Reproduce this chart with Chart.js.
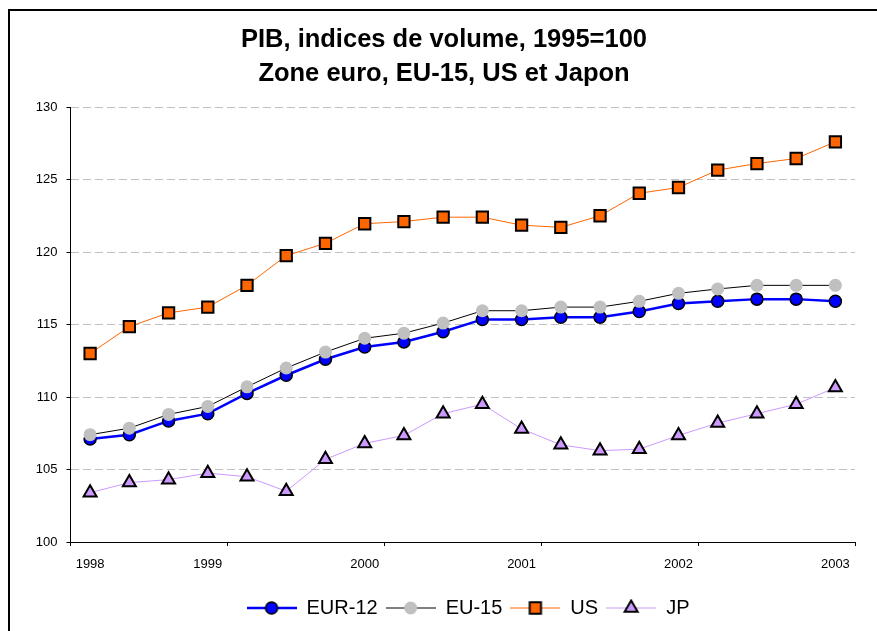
<!DOCTYPE html>
<html>
<head>
<meta charset="utf-8">
<script src="https://cdn.jsdelivr.net/npm/chart.js@4/dist/chart.umd.min.js"></script>
<style>
    html, body { margin: 0; padding: 0; background: #fff; }
    #wrap { width: 877px; height: 631px; }
</style>
</head>
<body>
<div id="wrap"><canvas id="pib" width="877" height="631"></canvas></div>
<script>
// quarters 1998T1 .. 2002T4
const quarters = [
    '1998T1', '1998T2', '1998T3', '1998T4',
    '1999T1', '1999T2', '1999T3', '1999T4',
    '2000T1', '2000T2', '2000T3', '2000T4',
    '2001T1', '2001T2', '2001T3', '2001T4',
    '2002T1', '2002T2', '2002T3', '2002T4'
];

const eur12 = [107.1, 107.4, 108.35, 108.85, 110.25, 111.5, 112.6, 113.45, 113.8, 114.5,
    115.35, 115.35, 115.5, 115.5, 115.9, 116.45, 116.6, 116.75, 116.75, 116.6];
const eu15 = [107.4, 107.85, 108.8, 109.35, 110.7, 112.0, 113.1, 114.05, 114.4, 115.1,
    115.95, 115.95, 116.2, 116.2, 116.6, 117.15, 117.45, 117.7, 117.7, 117.7];
const us = [113.0, 114.85, 115.8, 116.2, 117.7, 119.75, 120.6, 121.95, 122.1, 122.4,
    122.4, 121.85, 121.7, 122.5, 124.05, 124.45, 125.65, 126.1, 126.45, 127.6];
const jp = [103.4, 104.1, 104.3, 104.75, 104.5, 103.5, 105.7, 106.8, 107.35, 108.85,
    109.5, 107.8, 106.7, 106.3, 106.4, 107.35, 108.2, 108.85, 109.5, 110.65];

// year labels and the quarter index each one sits under
const yearLabels = ['1998', '1999', '2000', '2001', '2002', '2003'];
const yearLabelAt = [0, 3, 7, 11, 15, 19];
// tick marks between quarters
const yearTicks = [-0.5, 3.5, 7.5, 11.5, 15.5, 19.5];

const yTicks = { min: 100, max: 130, step: 5 };

Chart.defaults.font.family = '"Liberation Sans", Arial, sans-serif';
Chart.defaults.color = '#000';

const series = [
    { label: 'EUR-12', data: eur12, line: '#0000ff', width: 2.5, fill: '#0000ff', border: '#000', bw: 1.5, style: 'circle', r: 6, order: 4 },
    { label: 'EU-15', data: eu15, line: '#000000', width: 1, fill: '#c0c0c0', border: '#c0c0c0', bw: 0, style: 'circle', r: 6.5, order: 3 },
    { label: 'US', data: us, line: '#ff6600', width: 1, fill: '#ff6600', border: '#000', bw: 2, style: 'rect', r: 8, order: 2 },
    { label: 'JP', data: jp, line: '#cc99ff', width: 1, fill: '#cc99ff', border: '#000', bw: 2, style: 'triangle', r: 7.5, order: 1 }
];

// little line + marker picture for the legend
const makeLegendIcon = (s) => {
    const c = document.createElement('canvas');
    c.width = 50;
    c.height = 18;
    const g = c.getContext('2d');
    g.strokeStyle = s.line;
    g.lineWidth = s.width;
    g.beginPath();
    g.moveTo(0, 9);
    g.lineTo(50, 9);
    g.stroke();
    g.fillStyle = s.fill;
    g.strokeStyle = s.border;
    g.lineWidth = s.bw;
    Chart.helpers.drawPoint(g, { pointStyle: s.style, radius: s.r, rotation: 0, borderWidth: s.bw }, 25, 9);
    return c;
};
const icons = series.map(makeLegendIcon);

const datasets = series.map(s => ({
    label: s.label,
    data: s.data.map((v, i) => ({ x: i, y: v })),
    borderColor: s.line,
    borderWidth: s.width,
    pointStyle: s.style,
    pointRadius: s.r,
    pointBackgroundColor: s.fill,
    pointBorderColor: s.border,
    pointBorderWidth: s.bw,
    tension: 0,
    order: s.order
}));

const legendShift = 24;

const frame = {
    id: 'frame',
    afterLayout: (chart) => {
        chart.legend.left += legendShift;
        chart.legend.right += legendShift;
    },
    beforeDraw: (chart) => {
        const ctx = chart.ctx;
        ctx.save();
        ctx.fillStyle = '#fff';
        ctx.fillRect(0, 0, chart.width, chart.height);
        ctx.fillStyle = '#000';
        ctx.fillRect(8, 9, 2, chart.height);
        ctx.fillRect(8, 9, chart.width, 2);
        ctx.restore();
    }
};

new Chart(document.getElementById('pib'), {
    type: 'line',
    data: { datasets: datasets },
    plugins: [frame],
    options: {
        responsive: false,
        animation: false,
        devicePixelRatio: 1,
        layout: { padding: { left: 33, right: 22, top: 0, bottom: 3 } },
        plugins: {
            title: {
                display: true,
                text: ['PIB, indices de volume, 1995=100', 'Zone euro, EU-15, US et Japon'],
                font: { size: 25.5, weight: 'bold', lineHeight: '34px' },
                color: '#000',
                padding: { top: 23, bottom: 16 }
            },
            legend: {
                position: 'bottom',
                labels: {
                    usePointStyle: true,
                    pointStyleWidth: 50,
                    padding: 8,
                    font: { size: 20 },
                    color: '#000',
                    generateLabels: () => series.map((s, i) => ({
                        text: s.label,
                        pointStyle: icons[i],
                        fillStyle: s.fill,
                        strokeStyle: s.border,
                        lineWidth: 0,
                        hidden: false,
                        datasetIndex: i
                    }))
                }
            },
            tooltip: { enabled: false }
        },
        scales: {
            x: {
                type: 'linear',
                min: -0.5,
                max: 19.5,
                afterBuildTicks: (scale) => {
                    const vals = yearTicks.concat(yearLabelAt).sort((a, b) => a - b);
                    scale.ticks = vals.map(v => ({ value: v }));
                },
                afterFit: (scale) => { scale.height = 48; },
                ticks: {
                    autoSkip: false,
                    maxRotation: 0,
                    padding: 11,
                    font: { size: 13 },
                    color: '#000',
                    callback: (v) => {
                        const k = yearLabelAt.indexOf(v);
                        return k >= 0 ? yearLabels[k] : '';
                    }
                },
                grid: {
                    drawOnChartArea: false,
                    tickLength: 4,
                    tickColor: (ctx) => (ctx.tick && ctx.tick.value % 1 !== 0) ? '#000' : 'rgba(0,0,0,0)'
                },
                border: { display: true, color: '#000', width: 1 }
            },
            y: {
                min: yTicks.min,
                max: yTicks.max,
                afterFit: (scale) => { scale.width = 37.5; },
                ticks: {
                    stepSize: yTicks.step,
                    padding: 9,
                    font: { size: 13 },
                    color: '#000'
                },
                grid: {
                    color: (ctx) => (ctx.tick && ctx.tick.value === yTicks.min) ? 'rgba(0,0,0,0)' : '#c0c0c0',
                    tickLength: 4,
                    tickColor: '#000'
                },
                border: { display: true, color: '#000', width: 1, dash: [8, 4] }
            }
        }
    }
});
</script>
</body>
</html>
